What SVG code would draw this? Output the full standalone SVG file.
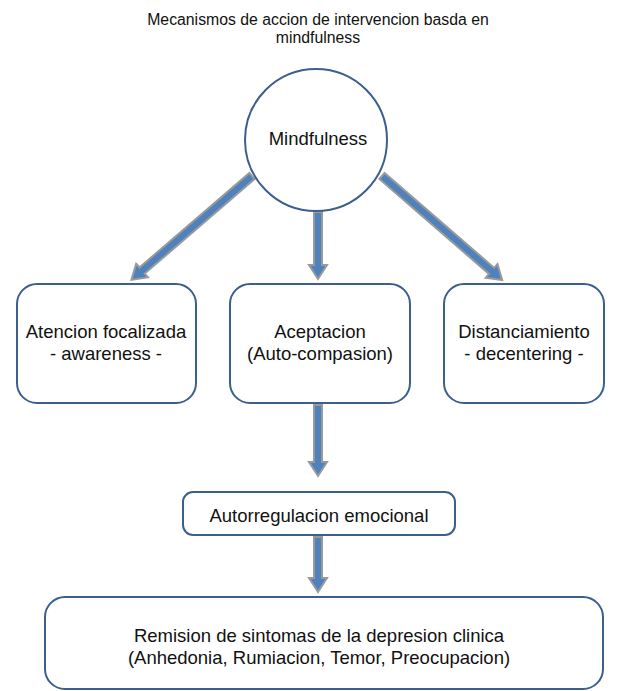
<svg xmlns="http://www.w3.org/2000/svg" width="623" height="691" viewBox="0 0 623 691">
<style>
.node{fill:#fff;stroke:#3c5f8e;stroke-width:2}
.t{font-family:"Liberation Sans",Arial,sans-serif;font-size:18.5px;fill:#111;text-anchor:middle}
.title{font-family:"Liberation Sans",Arial,sans-serif;font-size:15.8px;fill:#111;text-anchor:middle}
.arr{fill:#4f81bd;stroke:#9a9a9a;stroke-width:2;stroke-linejoin:miter}
</style>
<rect width="623" height="691" fill="#fff"/>
<g id="title">
<text class="title" x="318" y="25">Mecanismos de accion de intervencion basda en</text>
<text class="title" x="318" y="43">mindfulness</text>
</g>
<g id="connectors">
<polygon class="arr" transform="translate(252,176) rotate(139.3)" points="0,-4 145,-4 145,-9 159,0 145,9 145,4 0,4"/>
<polygon class="arr" transform="translate(382,176) rotate(40.9)" points="0,-4 145,-4 145,-9 159,0 145,9 145,4 0,4"/>
<polygon class="arr" transform="translate(318,212) rotate(90)" points="0,-4 53,-4 53,-9 67,0 53,9 53,4 0,4"/>
<polygon class="arr" transform="translate(318,405) rotate(90)" points="0,-4 57,-4 57,-9 71,0 57,9 57,4 0,4"/>
<polygon class="arr" transform="translate(318,537) rotate(90)" points="0,-4 41,-4 41,-9 55,0 41,9 41,4 0,4"/>
</g>
<g id="mindfulness">
<circle class="node" cx="316" cy="140" r="71"/>
<text class="t" x="318" y="145">Mindfulness</text>
</g>
<g id="atencion">
<rect class="node" x="17" y="284" width="179" height="119" rx="20"/>
<text class="t" x="106" y="338">Atencion focalizada</text>
<text class="t" x="106" y="360">- awareness -</text>
</g>
<g id="aceptacion">
<rect class="node" x="230" y="284" width="180" height="119" rx="20"/>
<text class="t" x="320" y="338">Aceptacion</text>
<text class="t" x="320" y="360">(Auto-compasion)</text>
</g>
<g id="distanciamiento">
<rect class="node" x="444" y="284" width="160" height="119" rx="20"/>
<text class="t" x="524" y="338">Distanciamiento</text>
<text class="t" x="524" y="360">- decentering -</text>
</g>
<g id="autorregulacion">
<rect class="node" x="183" y="492" width="272" height="43" rx="10"/>
<text class="t" x="319" y="522">Autorregulacion emocional</text>
</g>
<g id="remision">
<rect class="node" x="45" y="597" width="558" height="92" rx="20"/>
<text class="t" x="319" y="642">Remision de sintomas de la depresion clinica</text>
<text class="t" x="319" y="664">(Anhedonia, Rumiacion, Temor, Preocupacion)</text>
</g>
</svg>
